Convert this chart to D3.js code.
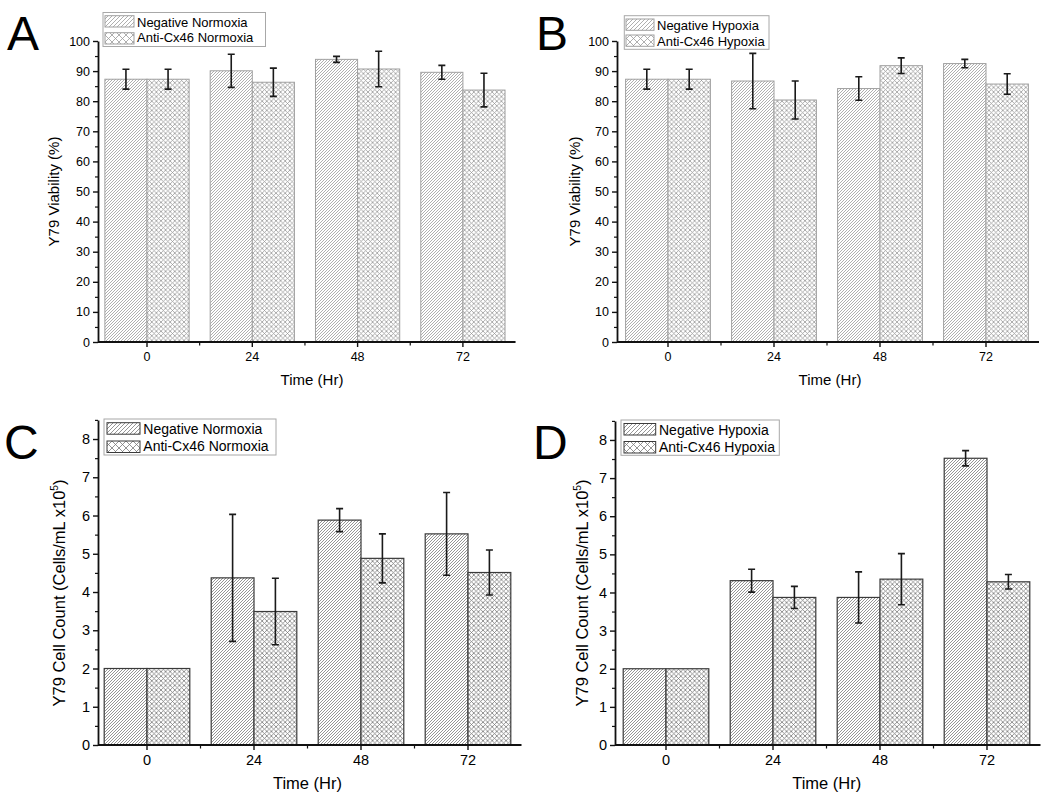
<!DOCTYPE html>
<html>
<head>
<meta charset="utf-8">
<script src="https://cdn.jsdelivr.net/npm/d3@7"></script>
<style>
  html, body { margin: 0; padding: 0; background: #fff; }
  svg { display: block; font-family: "Liberation Sans", Arial, sans-serif; }
</style>
</head>
<body>
<svg id="chart" width="1050" height="799"></svg>
<script>
// ---------------- DATA ----------------
const times = ["0", "24", "48", "72"];

const viabilityTicks = [0, 10, 20, 30, 40, 50, 60, 70, 80, 90, 100];
const countTicks = [0, 1, 2, 3, 4, 5, 6, 7, 8];

// Panel A – viability, normoxia
const viaNegNorm     = [87.3, 90.1, 93.9, 89.6];
const viaNegNormErr  = [3.3, 5.5, 1.0, 2.3];
const viaAntiNorm    = [87.3, 86.3, 90.7, 83.7];
const viaAntiNormErr = [3.3, 4.7, 5.9, 5.6];

// Panel B – viability, hypoxia
const viaNegHyp      = [87.3, 86.7, 84.2, 92.5];
const viaNegHypErr   = [3.3, 9.2, 3.9, 1.4];
const viaAntiHyp     = [87.3, 80.4, 91.8, 85.7];
const viaAntiHypErr  = [3.3, 6.3, 2.6, 3.4];

// Panel C – cell count, normoxia
const cntNegNorm     = [2.0, 4.37, 5.88, 5.52];
const cntNegNormErr  = [0, 1.66, 0.30, 1.08];
const cntAntiNorm    = [2.0, 3.49, 4.88, 4.51];
const cntAntiNormErr = [0, 0.87, 0.64, 0.59];

// Panel D – cell count, hypoxia
const cntNegHyp      = [2.0, 4.31, 3.87, 7.52];
const cntNegHypErr   = [0, 0.30, 0.67, 0.20];
const cntAntiHyp     = [2.0, 3.87, 4.35, 4.28];
const cntAntiHypErr  = [0, 0.29, 0.67, 0.19];

// ---------------- DRAWING ----------------
const svg = d3.select("#chart");
const defs = svg.append("defs");

function diagPattern(id, size, color, sw) {
  const p = defs.append("pattern").attr("id", id)
    .attr("patternUnits", "userSpaceOnUse").attr("width", size).attr("height", size);
  p.append("rect").attr("width", size).attr("height", size).attr("fill", "#fff");
  p.append("path")
    .attr("d", `M0,${size} L${size},0 M${-size/2},${size/2} L${size/2},${-size/2} M${size/2},${size*1.5} L${size*1.5},${size/2}`)
    .attr("stroke", color).attr("stroke-width", sw).attr("fill", "none");
}
function crossPattern(id, size, color, sw) {
  const p = defs.append("pattern").attr("id", id)
    .attr("patternUnits", "userSpaceOnUse").attr("width", size).attr("height", size);
  p.append("rect").attr("width", size).attr("height", size).attr("fill", "#fff");
  p.append("path")
    .attr("d", `M0,0 L${size},${size} M0,${size} L${size},0`)
    .attr("stroke", color).attr("stroke-width", sw).attr("fill", "none");
}
diagPattern("diagLight", 3, "#9a9a9a", 0.8);
crossPattern("crossLight", 4.6, "#9a9a9a", 0.8);
diagPattern("diagDark", 3, "#7a7a7a", 0.8);
crossPattern("crossDark", 4.6, "#7a7a7a", 0.8);
diagPattern("diagLegLight", 4, "#9a9a9a", 0.8);
crossPattern("crossLegLight", 7, "#9a9a9a", 0.8);
diagPattern("diagLegDark", 4, "#7a7a7a", 0.8);
crossPattern("crossLegDark", 7, "#7a7a7a", 0.8);

function drawPanel(cfg) {
  const g = svg.append("g");
  const x = d3.scaleBand().domain(times).range(cfg.xRange).paddingInner(0.2).paddingOuter(0.1);
  const y = d3.scaleLinear().domain(cfg.yDomain).range([cfg.yBottom, cfg.yTop]);

  const sub = d3.scaleBand().domain([0, 1]).range([0, x.bandwidth()]);
  const series = [
    { vals: cfg.neg, errs: cfg.negErr, fill: cfg.patNeg },
    { vals: cfg.anti, errs: cfg.antiErr, fill: cfg.patAnti }
  ];

  series.forEach((s, si) => {
    const data = times.map((t, i) => ({ t, v: s.vals[i], e: s.errs[i] }));
    g.selectAll(null).data(data).enter().append("rect")
      .attr("x", d => x(d.t) + sub(si))
      .attr("width", sub.bandwidth())
      .attr("y", d => y(d.v))
      .attr("height", d => y(cfg.yDomain[0]) - y(d.v))
      .attr("fill", `url(#${s.fill})`)
      .attr("stroke", cfg.barStroke).attr("stroke-width", cfg.barStrokeW);
  });

  // error bars
  series.forEach((s, si) => {
    const data = times.map((t, i) => ({ t, v: s.vals[i], e: s.errs[i] })).filter(d => d.e > 0);
    const cx = d => x(d.t) + sub(si) + sub.bandwidth() / 2;
    const eg = g.append("g").attr("stroke", "#1a1a1a").attr("stroke-width", 1.6).attr("fill", "none");
    eg.selectAll(null).data(data).enter().append("path")
      .attr("d", d => {
        const c = cx(d), t = y(d.v + d.e), b = y(d.v - d.e);
        return `M${c},${t}V${b}M${c-3.5},${t}H${c+3.5}M${c-3.5},${b}H${c+3.5}`;
      });
  });

  // y axis
  const yAxis = d3.axisLeft(y).tickValues(cfg.yTicks).tickSize(5).tickSizeOuter(0).tickPadding(3);
  const ya = g.append("g").attr("transform", `translate(${cfg.yAxisX},0)`).call(yAxis);
  ya.select(".domain").attr("stroke", "#111").attr("stroke-width", 1.8);
  ya.selectAll(".tick line").attr("stroke", "#111").attr("stroke-width", 1.4);
  ya.selectAll(".tick text").attr("font-size", cfg.tickFont).attr("fill", "#000")
    .attr("font-family", "'Liberation Sans', Arial, sans-serif");
  const yMinor = d3.axisLeft(y).tickValues(cfg.yMinor).tickSize(3).tickSizeOuter(0).tickFormat("");
  const ym = g.append("g").attr("transform", `translate(${cfg.yAxisX},0)`).call(yMinor);
  ym.select(".domain").remove();
  ym.selectAll(".tick line").attr("stroke", "#111").attr("stroke-width", 1.2);

  // x axis
  const xAxis = d3.axisBottom(x).tickSize(5).tickSizeOuter(0).tickPadding(5);
  const xa = g.append("g").attr("transform", `translate(0,${cfg.yBottom})`).call(xAxis);
  xa.select(".domain").remove();
  xa.selectAll(".tick line").attr("stroke", "#111").attr("stroke-width", 1.4);
  xa.selectAll(".tick text").attr("font-size", cfg.tickFont).attr("fill", "#000")
    .attr("font-family", "'Liberation Sans', Arial, sans-serif");
  g.append("line").attr("x1", cfg.yAxisX).attr("x2", cfg.xRange[1])
    .attr("y1", cfg.yBottom).attr("y2", cfg.yBottom)
    .attr("stroke", "#111").attr("stroke-width", 1.8);
  // minor x ticks at group boundaries
  const bounds = times.slice(0, -1).map(t => x(t) + x.bandwidth() + x.step() * x.paddingInner() / 2);
  g.selectAll(null).data(bounds).enter().append("line")
    .attr("x1", d => d).attr("x2", d => d)
    .attr("y1", cfg.yBottom).attr("y2", cfg.yBottom + 3.5)
    .attr("stroke", "#111").attr("stroke-width", 1.2);

  // axis titles
  g.append("text").attr("x", cfg.xTitleX).attr("y", cfg.xTitleY)
    .attr("text-anchor", "middle").attr("font-size", cfg.titleFont).text("Time (Hr)");
  const yt = g.append("text")
    .attr("transform", `translate(${cfg.yTitleX},${cfg.yTitleY}) rotate(-90)`)
    .attr("text-anchor", "middle").attr("font-size", cfg.titleFont);
  yt.append("tspan").text(cfg.yTitle);
  if (cfg.yTitleSup) {
    yt.append("tspan").attr("font-size", cfg.titleFont * 0.62).attr("dy", -cfg.titleFont * 0.42).text(cfg.yTitleSup);
    yt.append("tspan").attr("dy", cfg.titleFont * 0.42).text(")");
  }

  // panel letter
  g.append("text").attr("x", cfg.letterX).attr("y", cfg.letterY)
    .attr("font-size", 48).text(cfg.letter);

  // legend
  const L = cfg.legend;
  const lg = g.append("g");
  lg.append("rect").attr("x", L.x).attr("y", L.y).attr("width", L.w).attr("height", L.h)
    .attr("fill", "#fff").attr("stroke", "#a8a8a8").attr("stroke-width", 1);
  const items = [
    { label: cfg.negLabel, fill: cfg.legNeg },
    { label: cfg.antiLabel, fill: cfg.legAnti }
  ];
  items.forEach((it, i) => {
    lg.append("rect").attr("x", L.sx).attr("y", L.rows[i]).attr("width", L.sw).attr("height", L.sh)
      .attr("fill", `url(#${it.fill})`).attr("stroke", cfg.barStroke).attr("stroke-width", 1);
    lg.append("text").attr("x", L.tx).attr("y", L.base[i]).attr("font-size", L.font).text(it.label);
  });
}

drawPanel({
  letter: "A", letterX: 7, letterY: 50,
  xRange: [94.35, 515.55], yAxisX: 98, yDomain: [0, 100], yTop: 41, yBottom: 342,
  yTicks: viabilityTicks, yMinor: d3.range(5, 100, 10),
  neg: viaNegNorm, negErr: viaNegNormErr, anti: viaAntiNorm, antiErr: viaAntiNormErr,
  patNeg: "diagLight", patAnti: "crossLight", legNeg: "diagLegLight", legAnti: "crossLegLight",
  barStroke: "#a0a0a0", barStrokeW: 1,
  tickFont: 12.5, titleFont: 15,
  xTitleX: 312, xTitleY: 385, yTitle: "Y79 Viability (%)", yTitleX: 59, yTitleY: 191.5,
  negLabel: "Negative Normoxia", antiLabel: "Anti-Cx46 Normoxia",
  legend: { x: 103, y: 12.5, w: 162.5, h: 34, sx: 105, sw: 29, sh: 11.3, rows: [15.7, 32.7], tx: 137, base: [26.5, 42], font: 13 }
});

drawPanel({
  letter: "B", letterX: 536, letterY: 50,
  xRange: [615, 1039], yAxisX: 617, yDomain: [0, 100], yTop: 41, yBottom: 342,
  yTicks: viabilityTicks, yMinor: d3.range(5, 100, 10),
  neg: viaNegHyp, negErr: viaNegHypErr, anti: viaAntiHyp, antiErr: viaAntiHypErr,
  patNeg: "diagLight", patAnti: "crossLight", legNeg: "diagLegLight", legAnti: "crossLegLight",
  barStroke: "#a0a0a0", barStrokeW: 1,
  tickFont: 12.5, titleFont: 15,
  xTitleX: 830, xTitleY: 385, yTitle: "Y79 Viability (%)", yTitleX: 580, yTitleY: 191.5,
  negLabel: "Negative Hypoxia", antiLabel: "Anti-Cx46 Hypoxia",
  legend: { x: 624.3, y: 15.7, w: 144.7, h: 33.6, sx: 626, sw: 28, sh: 11.3, rows: [19, 35], tx: 657, base: [29.5, 45.5], font: 13 }
});

drawPanel({
  letter: "C", letterX: 4, letterY: 459,
  xRange: [93.5, 521.5], yAxisX: 98, yDomain: [0, 8.5], yTop: 419.9, yBottom: 745,
  yTicks: countTicks, yMinor: d3.range(0.5, 8.6, 1),
  neg: cntNegNorm, negErr: cntNegNormErr, anti: cntAntiNorm, antiErr: cntAntiNormErr,
  patNeg: "diagDark", patAnti: "crossDark", legNeg: "diagLegDark", legAnti: "crossLegDark",
  barStroke: "#3a3a3a", barStrokeW: 1.2,
  tickFont: 14.5, titleFont: 16.5,
  xTitleX: 307.5, xTitleY: 789, yTitle: "Y79 Cell Count (Cells/mL x10", yTitleSup: "5", yTitleX: 65, yTitleY: 593,
  negLabel: "Negative Normoxia", antiLabel: "Anti-Cx46 Normoxia",
  legend: { x: 104, y: 419, w: 172, h: 36, sx: 107, sw: 33, sh: 11.5, rows: [422.7, 441], tx: 143.3, base: [434, 451], font: 14 }
});

drawPanel({
  letter: "D", letterX: 533, letterY: 459,
  xRange: [612.5, 1040.5], yAxisX: 615, yDomain: [0, 8.5], yTop: 420.9, yBottom: 745,
  yTicks: countTicks, yMinor: d3.range(0.5, 8.6, 1),
  neg: cntNegHyp, negErr: cntNegHypErr, anti: cntAntiHyp, antiErr: cntAntiHypErr,
  patNeg: "diagDark", patAnti: "crossDark", legNeg: "diagLegDark", legAnti: "crossLegDark",
  barStroke: "#3a3a3a", barStrokeW: 1.2,
  tickFont: 14.5, titleFont: 16.5,
  xTitleX: 826.7, xTitleY: 789, yTitle: "Y79 Cell Count (Cells/mL x10", yTitleSup: "5", yTitleX: 588, yTitleY: 593,
  negLabel: "Negative Hypoxia", antiLabel: "Anti-Cx46 Hypoxia",
  legend: { x: 621, y: 420, w: 158.3, h: 35.3, sx: 624, sw: 31.7, sh: 11.5, rows: [423.5, 441.5], tx: 659, base: [435, 452], font: 14 }
});
</script>
</body>
</html>
